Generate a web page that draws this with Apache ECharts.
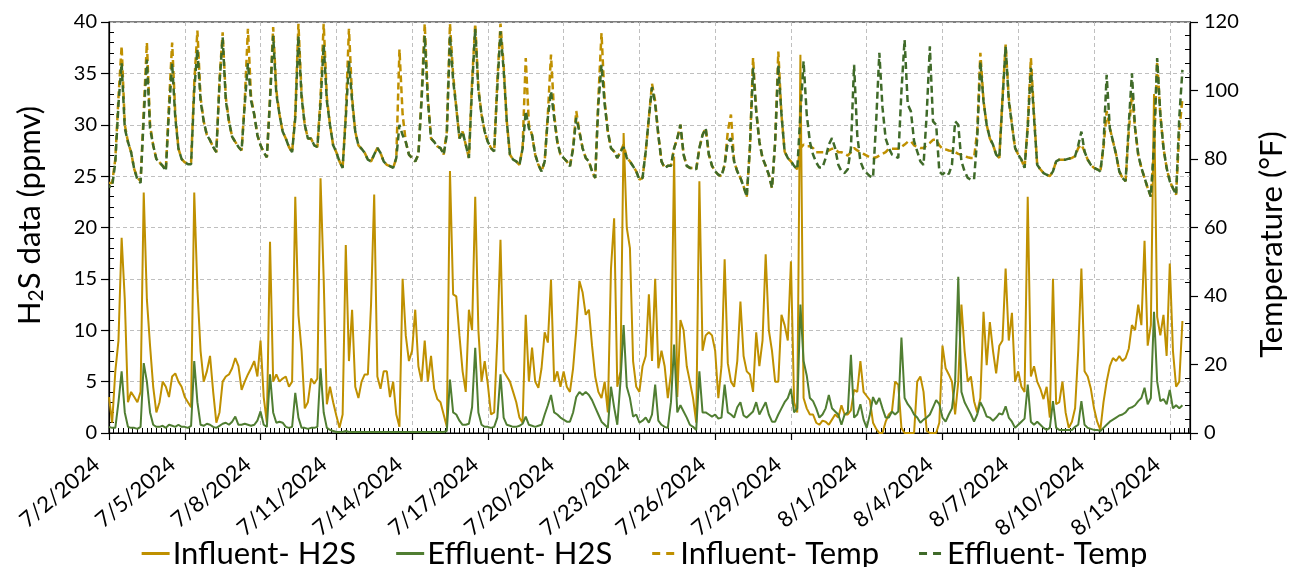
<!DOCTYPE html>
<html>
<head>
<meta charset="utf-8">
<script src="https://cdn.jsdelivr.net/npm/echarts@6/dist/echarts.min.js"></script>
<style>
  html, body { margin: 0; padding: 0; background: #ffffff; }
  #chart { width: 1289px; height: 567px; }
</style>
</head>
<body>
<div id="chart"></div>
<script>
// Sampling: one reading every 3 hours starting 7/2/2024 00:00, one row per day.
const START_UTC = Date.UTC(2024, 6, 2);
const STEP_HOURS = 3;

// Influent H2S (ppmv)
const influentH2S = [
  3.5, 1, 6, 9, 19, 13, 3, 4,
  3.5, 3, 4, 23.4, 13, 8.5, 4.5, 2,
  3, 5, 4.5, 3.5, 5.5, 5.8, 5, 4.5,
  3.5, 3, 2.5, 23.4, 14, 8, 5, 6,
  7.5, 4, 1, 2, 5, 5.5, 5.7, 6.3,
  7.3, 6.5, 4.2, 5, 5.7, 6.3, 7, 5.5,
  9, 3.5, 1, 18.6, 5, 5.7, 5, 5.3,
  5.5, 4.5, 5, 23, 11.5, 8, 2.4, 3,
  5.3, 4.8, 5.3, 24.8, 15, 2.8, 4.5, 3,
  1.7, 0.5, 1.8, 18.3, 7, 12, 4.5, 3.4,
  5, 5.7, 5.7, 12.5, 23.2, 5.5, 4.3, 6,
  6, 3.5, 5, 1.8, 0.6, 15, 9.5, 7,
  8, 12, 6.5, 5, 9, 5, 7.5, 4.3,
  3.3, 3, 1.8, 0.6, 25.5, 13.5, 13.3, 9.5,
  6, 4, 12, 10, 23, 10, 5, 7,
  4.7, 1.8, 2, 9.2, 18.8, 6, 5.5, 5,
  4, 3, 1.5, 1, 11.5, 5, 8.3, 5,
  4.4, 6.3, 9.8, 8.8, 14.9, 5, 6, 4.5,
  6, 4.5, 4, 6.3, 10, 14.8, 13.7, 11.5,
  12, 8.5, 5.5, 4, 3.4, 5, 2, 16,
  20.9, 4.5, 6, 29.2, 20, 18, 7, 4.5,
  4, 6.5, 7.5, 13.5, 7, 15, 6.3, 8,
  6.5, 3.4, 5.8, 26.9, 3.5, 11, 10, 6.5,
  5, 3.4, 1, 24.5, 8, 9.5, 9.8, 9.5,
  8, 3.4, 6.5, 16.9, 6.8, 5, 4.5, 7,
  12.8, 7.5, 6, 5.7, 4, 9.8, 6.5, 9,
  17.4, 10, 8, 5, 5, 11.5, 10.5, 9,
  16.7, 3, 2, 36.8, 3.4, 2.4, 1.8, 1.8,
  1, 0.8, 1.2, 1.1, 0.8, 1.3, 1.8, 1.5,
  2.7, 1.8, 1.8, 2.2, 4.2, 4, 7, 4,
  3.6, 3.2, 1, 0.4, 0, 0, 1.1, 1.8,
  2.1, 5, 4.7, 0.5, 0, 0, 0, 0,
  5, 5.5, 4, 0.2, 0, 0, 0, 1,
  8.5, 6.3, 5.7, 5, 1.8, 5, 12.5, 8,
  5, 5.5, 3.1, 2, 3.4, 11.8, 6.6, 10.8,
  8, 5.8, 8.5, 9, 16, 9, 11.7, 5,
  6, 4.5, 4, 23, 5.5, 6.5, 5, 4.3,
  3.3, 4.5, 1.5, 15, 2.8, 3, 5, 2,
  0.5, 1.1, 2.4, 8, 16, 6, 5.5, 4.3,
  2.4, 1.1, 0.3, 3, 5, 6.5, 7.3, 7,
  7.5, 7, 7.3, 8.2, 10.5, 10, 12.5, 10.5,
  18.7, 8.5, 10.5, 33, 11.3, 9.5, 11.5, 7.5,
  16.5, 8, 4.5, 5, 10.9
];

// Effluent H2S (ppmv)
const effluentH2S = [
  0.6, 0.5, 0.5, 3, 6, 2, 0.6, 0.5,
  0.5, 0.4, 0.6, 6.8, 5, 2, 0.8, 0.6,
  0.6, 0.7, 0.5, 0.8, 0.7, 0.6, 0.8, 0.6,
  0.6, 0.5, 0.7, 7, 3, 0.8, 0.7, 0.9,
  0.8, 0.6, 0.5, 0.7, 0.9, 1.0, 0.8, 1.1,
  1.6, 0.8, 0.8, 0.9, 0.8, 0.7, 0.8, 1.2,
  2.1, 0.8, 0.6, 5.7, 2, 1, 1.1, 1,
  0.6, 0.5, 0.6, 3.9, 1.5, 0.5, 0.5, 0.4,
  0.5, 0.5, 0.6, 6.3, 2, 0.5, 0.3, 0.2,
  0.1, 0.1, 0.1, 0.2, 0.1, 0.1, 0.1, 0.1,
  0.1, 0.1, 0.1, 0.1, 0.1, 0.1, 0.1, 0.1,
  0.1, 0.1, 0.1, 0.1, 0.1, 0.1, 0.1, 0.1,
  0.1, 0.1, 0.1, 0.1, 0.1, 0.1, 0.1, 0.1,
  0.1, 0.1, 0.1, 0.2, 5.2, 2, 1.8, 1.2,
  0.8, 0.8, 0.9, 2.5, 8.3, 2, 0.8, 0.6,
  0.6, 0.5, 0.6, 1.5, 5.7, 1.5, 0.8, 0.7,
  0.6, 0.6, 0.7, 0.9, 1.6, 0.8, 0.7, 0.6,
  0.7, 0.8, 1.8, 2.7, 3.7, 2, 1.8, 1.5,
  1.3, 1.1, 1.1, 2, 3.5, 4, 3.7, 4,
  3.7, 3.2, 2.5, 1.8, 1.1, 0.8, 0.5, 4.5,
  2.5, 0.8, 5, 10.5, 4.5, 3.4, 1.6, 1.8,
  1, 1.2, 1.5, 1, 1.8, 4.7, 1.2, 0.8,
  0.6, 0.5, 3, 8.6, 2, 2.7, 2.1, 1.5,
  0.8, 0.6, 0.3, 6, 2, 2, 1.8, 1.6,
  1.8, 1.4, 1.5, 4.7, 2, 1.8, 1.5, 2.5,
  3, 1.7, 1.5, 1.8, 2.1, 3, 1.8, 2.4,
  3, 1.8, 1.1, 1.1, 1.8, 2.4, 3, 3.4,
  4.3, 2, 2.4, 12.5, 7, 5.6, 3.4, 3.1,
  2.4, 1.5, 1.8, 2.4, 3.7, 2.4, 2.1, 1.8,
  0.8, 1.8, 2, 7.6, 1.5, 1.8, 2.8, 1.3,
  0.5, 1.8, 3.5, 2.8, 3.4, 2.4, 1.5, 1.5,
  2.1, 1.8, 2.1, 9.3, 3.4, 2.8, 2.4, 1.8,
  1.5, 1, 1.3, 1.5, 1.8, 2.5, 3.2, 2.8,
  1.5, 1.1, 1.8, 2.4, 5, 15.2, 4, 3,
  2.4, 1.8, 1.1, 1.8, 3, 2.4, 1.6, 1.5,
  1.2, 1.5, 1.9, 1.8, 2.6, 1.5, 1.1, 0.5,
  0.8, 1.1, 1.4, 4.7, 1.1, 0.8, 1.1, 0.8,
  0.5, 0.3, 0.5, 3.1, 0.5, 0.3, 0.3, 0.3,
  0.3, 0.3, 0.6, 0.8, 3.1, 0.8, 0.5, 0.4,
  0.3, 0.3, 0.2, 0.5, 0.8, 1.1, 1.3, 1.5,
  1.7, 1.8, 2, 2.4, 2.5, 2.7, 3.1, 3.4,
  4.4, 2.8, 3.4, 11.8, 5, 3.1, 3.3, 2.8,
  4.2, 2.4, 2.7, 2.4, 2.7
];

// Influent temperature (°F)
const influentTemp = [
  73, 73, 80, 98, 113, 90, 85, 82,
  77, 74.5, 73.5, 94, 114, 90, 84, 80,
  79, 78, 77, 96, 114, 93, 83, 80,
  79, 79, 79, 102, 117.5, 98, 91, 87,
  85.5, 83.5, 82, 103, 117, 98, 91, 86.5,
  85, 83.5, 82.5, 97, 118, 98, 93, 87,
  84, 82, 80.5, 98, 118.5, 100, 93, 88,
  86, 83.5, 82, 93, 119.5, 99, 90, 86,
  86, 84, 83.5, 98, 119.5, 98, 90, 84,
  82, 79.3, 77.4, 93, 118, 98, 88, 84,
  83, 81.8, 79.8, 79.3, 81.3, 83.2, 81.8, 79.3,
  78.3, 77.9, 77.4, 80.3, 112, 93, 85, 81.3,
  80.3, 79.3, 81.3, 98, 119.5, 98, 86, 85,
  83.7, 83.2, 81.3, 88, 119.5, 104.6, 95, 86,
  88, 84.2, 80.3, 102.7, 119.5, 100.7, 93, 88,
  85, 83.2, 82.2, 102.7, 119.5, 107.5, 91, 81.3,
  79.8, 79.3, 78.3, 83.2, 109.5, 90, 87, 81.3,
  78.3, 76.4, 79.3, 93, 110.5, 93, 85, 81.3,
  80.3, 79.3, 77.9, 83.2, 94, 88, 83.2, 80.3,
  79.3, 76.4, 74.5, 97.8, 116.8, 96.8, 88, 83.2,
  82.2, 80.3, 82.2, 84.2, 80.3, 79.3, 77.9, 76.4,
  74, 74.5, 82.2, 92, 102, 96.8, 87, 79.3,
  77.4, 78, 78, 83.2, 86, 90, 81.3, 78,
  77.4, 77.4, 77, 83.2, 87, 89, 81.3, 78,
  76.4, 75.4, 75, 78.3, 88, 93, 79.3, 76.4,
  74.5, 72, 69, 83.2, 109.5, 94, 85, 80.3,
  78, 75.4, 71.5, 85, 111.4, 93, 82.2, 80.3,
  79.3, 78, 77, 83.2, 84.2, 83.7, 83.7, 83.2,
  82, 82, 82, 82, 82.5, 83, 83, 82,
  82, 81.5, 81, 82, 83.2, 82.5, 82, 81.5,
  81, 80.5, 80.3, 80.5, 81, 81.5, 82, 83,
  83, 83, 83, 83.5, 84.2, 85, 85.2, 84,
  83.5, 83.2, 83.2, 84, 84.7, 85.6, 85.6, 84,
  83, 82.8, 82.5, 82.3, 82, 81.5, 81.2, 80.8,
  80.5, 80.3, 80.3, 88, 111, 97, 90, 86,
  84.2, 81.3, 80.3, 97.8, 113.4, 97.8, 90, 83.2,
  81.3, 79.8, 77.4, 90, 109.5, 93, 78.3, 77,
  75.9, 75.4, 75, 76.4, 79.3, 79.8, 79.8, 79.8,
  80.1, 80.3, 80.8, 83.2, 84.2, 82.2, 79.8, 78.3,
  77.4, 77, 76.4, 83.2, 94, 89, 85.2, 81.3,
  76.4, 74.5, 73.5, 88, 98.8, 89, 81.3, 77.4,
  74.5, 71.5, 69, 83.2, 108.5, 93, 83.2, 77.4,
  73.5, 71.5, 69.6, 88, 97.8
];

// Effluent temperature (°F)
const effluentTemp = [
  72, 72, 79, 96, 108, 89, 85, 82,
  77, 74, 73, 92, 109, 89, 84, 80,
  79, 78, 76.5, 94, 108, 92, 83, 80,
  79, 78.5, 78.5, 100, 112, 97, 91, 87,
  85.5, 83.5, 82, 102, 115.5, 97, 91, 86.5,
  85, 83.5, 82.5, 96, 108, 97, 93, 87,
  84, 82, 80.5, 97, 116, 99, 93, 88,
  86, 83.5, 82, 92, 116, 98, 90, 86,
  86, 84, 83.5, 96, 113.4, 97, 90, 84,
  82, 79.3, 77.4, 92, 108.5, 97, 88, 84,
  83, 81.8, 79.8, 79.3, 81.3, 83.2, 81.8, 79.3,
  78.3, 77.9, 77.4, 80.3, 90, 87, 85, 81.3,
  80.3, 79.3, 81.3, 97, 116, 97, 86, 85,
  83.7, 83.2, 81.3, 87, 116, 103, 95, 86,
  88, 84.2, 80.3, 101, 118, 100, 93, 88,
  85, 83.2, 82.2, 101, 117.3, 106, 91, 81.3,
  79.8, 79.3, 78.3, 83, 94, 89, 87, 81.3,
  78.3, 76.4, 79.3, 92, 99.8, 92, 85, 81.3,
  80.3, 79.3, 77.9, 83, 92, 88, 83.2, 80.3,
  79.3, 76.4, 74.5, 96, 107.5, 96, 88, 83.2,
  82.2, 80.3, 82.2, 83.5, 80.3, 79.3, 77.9, 76.4,
  74, 74.5, 82.2, 92, 101, 96, 87, 79.3,
  77.4, 78, 78, 83.2, 86, 90, 81.3, 78,
  77.4, 77.4, 77, 83.2, 87, 89, 81.3, 78,
  76.4, 75.4, 75, 78.3, 85, 86, 79.3, 76.4,
  74.5, 72, 69, 83.2, 106.6, 94, 85, 80.3,
  78, 75.4, 71.5, 85, 107.5, 93, 82.2, 80.3,
  79.3, 78, 77, 93, 108.5, 93, 85, 81.3,
  79, 77.5, 77.5, 80.3, 84.2, 86.1, 83.2, 78.3,
  76.4, 75.9, 77, 83.2, 107.5, 87, 79.3, 77,
  75.9, 75, 74.5, 91, 111, 95, 86, 83.2,
  81.3, 80.8, 80.3, 99.8, 114.8, 95.9, 93.9, 85.2,
  82.2, 79.3, 78.3, 93, 112.9, 91, 90, 76.4,
  75.4, 76.4, 75.6, 78.3, 91, 90, 79.3, 76.4,
  74.5, 74, 74, 86, 108.5, 96.8, 90, 86.1,
  84.2, 81.3, 80.3, 97, 112.9, 97, 90, 83.2,
  81.3, 79.8, 77.4, 89, 106.6, 92, 78.3, 77,
  75.9, 75.4, 75, 76.4, 79.3, 79.8, 79.8, 79.8,
  80.1, 80.3, 80.8, 84, 88, 82.2, 79.8, 78.3,
  77.4, 77, 76.4, 84, 104.6, 89, 85.2, 81.3,
  76.4, 74.5, 73.5, 90, 105, 89, 81.3, 77.4,
  74.5, 71.5, 69, 84, 109.5, 93, 83.2, 77.4,
  73.5, 71.5, 69.6, 92, 106
];

// Axis settings
const xTickDays = 3;
const xMaxDays = 42.8;
const h2sTicks = { min: 0, max: 40, interval: 5 };
const tempTicks = { min: 0, max: 120, interval: 20 };

const GOLD = '#BF9000';
const GREEN = '#507E32';
const GREEN_DARK = '#3F6A29';
const FONT = 'Lato, "Open Sans", sans-serif';

// Legend keys: a solid bar and a two-dash bar
const ICON_SOLID = 'path://M0,0 L28,0 L28,3 L0,3 Z';
const ICON_DASHED = 'path://M2,0 L10,0 L10,3 L2,3 Z M16,0 L24,0 L24,3 L16,3 Z';

function toPairs(values) {
  return values.map((v, i) => [i * STEP_HOURS / 24, v]);
}

function dayLabel(v) {
  const r = Math.round(v);
  if (Math.abs(v - r) > 1e-6 || r % xTickDays !== 0) return '';
  const d = new Date(START_UTC + r * 86400000);
  return (d.getUTCMonth() + 1) + '/' + d.getUTCDate() + '/' + d.getUTCFullYear();
}

const chart = echarts.init(document.getElementById('chart'), null, { renderer: 'canvas' });

const option = {
  animation: false,
  backgroundColor: '#ffffff',
  textStyle: { fontFamily: FONT },
  grid: {
    left: 109, right: 99, top: 22, bottom: 134,
    show: true, borderColor: '#000000', borderWidth: 1.2,
    outerBoundsMode: 'none'
  },
  legend: {
    top: 533,
    left: 'center',
    itemWidth: 28,
    itemHeight: 3,
    itemGap: 40,
    textStyle: { fontFamily: FONT, fontSize: 31, color: '#000000', padding: [0, 0, 0, -2] },
    data: [
      { name: 'Influent- H2S', icon: ICON_SOLID, itemStyle: { color: GOLD } },
      { name: 'Effluent- H2S', icon: ICON_SOLID, itemStyle: { color: GREEN } },
      { name: 'Influent- Temp', icon: ICON_DASHED, itemStyle: { color: GOLD } },
      { name: 'Effluent- Temp', icon: ICON_DASHED, itemStyle: { color: GREEN_DARK } }
    ]
  },
  xAxis: {
    type: 'value',
    min: 0,
    max: xMaxDays,
    interval: xTickDays,
    axisLine: { show: true, lineStyle: { color: '#000000', width: 1.2 } },
    axisTick: { show: true, inside: false, length: 7, lineStyle: { color: '#000000', width: 1.2 } },
    minorTick: { show: true, splitNumber: 16, length: -5, lineStyle: { color: '#000000', width: 1 } },
    axisLabel: {
      formatter: dayLabel,
      rotate: 40,
      margin: 18,
      padding: [0, 16, 0, 0],
      fontFamily: FONT,
      fontSize: 22,
      color: '#000000',
      showMaxLabel: false
    },
    splitLine: { show: true, lineStyle: { color: '#BFBFBF', type: [4, 3], width: 1 } }
  },
  yAxis: [
    {
      type: 'value',
      min: h2sTicks.min, max: h2sTicks.max, interval: h2sTicks.interval,
      position: 'left',
      name: '{n|H}{s|2}{n|S data (ppmv)}',
      nameLocation: 'middle',
      nameRotate: 90,
      nameGap: 62,
      nameTextStyle: {
        padding: [0, 0, 0, 24],
        rich: {
          n: { fontFamily: FONT, fontSize: 31, color: '#000000' },
          s: { fontFamily: FONT, fontSize: 21, color: '#000000', verticalAlign: 'bottom', padding: [14, 0, 0, 0] }
        }
      },
      axisLine: { show: true, lineStyle: { color: '#000000', width: 1.2 } },
      axisTick: { show: true, inside: false, length: 8, lineStyle: { color: '#000000', width: 1.2 } },
      minorTick: { show: true, splitNumber: 5, length: -5, lineStyle: { color: '#000000', width: 1 } },
      axisLabel: { margin: 12, fontFamily: FONT, fontSize: 20, color: '#000000' },
      splitLine: { show: true, lineStyle: { color: '#BFBFBF', type: [4, 3], width: 1 } }
    },
    {
      type: 'value',
      min: tempTicks.min, max: tempTicks.max, interval: tempTicks.interval,
      position: 'right',
      name: 'Temperature (°F)',
      nameLocation: 'middle',
      nameRotate: 90,
      nameGap: 66,
      nameTextStyle: { fontFamily: FONT, fontSize: 31, color: '#000000', padding: [0, 34, 0, 0] },
      axisLine: { show: true, lineStyle: { color: '#000000', width: 1.2 } },
      axisTick: { show: true, inside: false, length: 8, lineStyle: { color: '#000000', width: 1.2 } },
      minorTick: { show: true, splitNumber: 5, length: -5, lineStyle: { color: '#000000', width: 1 } },
      axisLabel: { margin: 14, fontFamily: FONT, fontSize: 20, color: '#000000' },
      splitLine: { show: false }
    }
  ],
  series: [
    {
      name: 'Influent- H2S', type: 'line', yAxisIndex: 0,
      data: toPairs(influentH2S), symbol: 'none', showSymbol: false,
      lineStyle: { color: GOLD, width: 2 }, itemStyle: { color: GOLD }
    },
    {
      name: 'Effluent- H2S', type: 'line', yAxisIndex: 0,
      data: toPairs(effluentH2S), symbol: 'none', showSymbol: false,
      lineStyle: { color: GREEN, width: 2 }, itemStyle: { color: GREEN }
    },
    {
      name: 'Influent- Temp', type: 'line', yAxisIndex: 1,
      data: toPairs(influentTemp), symbol: 'none', showSymbol: false,
      lineStyle: { color: GOLD, width: 2.5, type: [7, 4] }, itemStyle: { color: GOLD }
    },
    {
      name: 'Effluent- Temp', type: 'line', yAxisIndex: 1,
      data: toPairs(effluentTemp), symbol: 'none', showSymbol: false,
      lineStyle: { color: GREEN_DARK, width: 2.5, type: [7, 4], dashOffset: 5 }, itemStyle: { color: GREEN_DARK }
    }
  ]
};

chart.setOption(option);
</script>
</body>
</html>
